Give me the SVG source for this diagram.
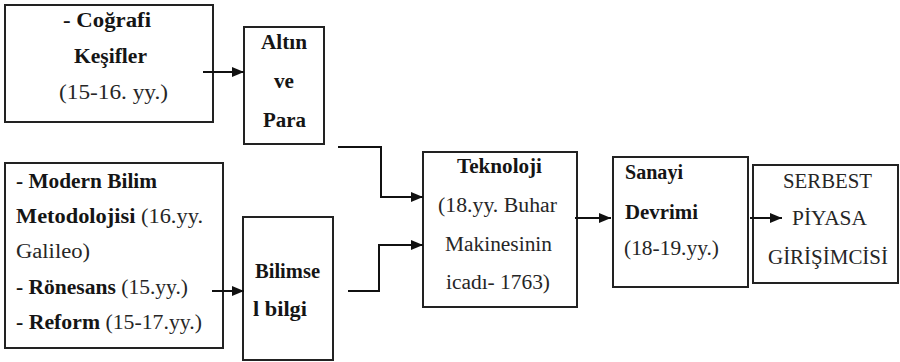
<svg xmlns="http://www.w3.org/2000/svg" width="900" height="362" viewBox="0 0 900 362">
<defs>
<marker id="arr" markerUnits="userSpaceOnUse" markerWidth="12" markerHeight="10" refX="12" refY="5" orient="auto">
<path d="M0,0 L12,5 L0,10 z" fill="#111"/>
</marker>
<style>
.box{fill:#fff;stroke:#222;stroke-width:2}
.b{font-weight:bold;fill:#151515}
.con path{fill:none;stroke:#111;stroke-width:2;marker-end:url(#arr)}
</style>
</defs>
<rect width="900" height="362" fill="#fff"/>
<g font-family="'Liberation Serif', 'Times New Roman', serif" font-size="20.5" fill="#262626">
<g id="cografi">
<rect class="box" x="5" y="5" width="208" height="117"/>
<text class="b" x="63" y="27" textLength="88" lengthAdjust="spacingAndGlyphs">- Coğrafi</text>
<text class="b" x="74" y="63" textLength="73" lengthAdjust="spacingAndGlyphs">Keşifler</text>
<text x="59" y="99" textLength="109" lengthAdjust="spacingAndGlyphs">(15-16. yy.)</text>
</g>
<g id="altin">
<rect class="box" x="244" y="27" width="80" height="117"/>
<text class="b" x="261" y="49" textLength="46" lengthAdjust="spacingAndGlyphs">Altın</text>
<text class="b" x="274" y="88" textLength="20" lengthAdjust="spacingAndGlyphs">ve</text>
<text class="b" x="263" y="127" textLength="43" lengthAdjust="spacingAndGlyphs">Para</text>
</g>
<g id="modern">
<rect class="box" x="5" y="163" width="218" height="185"/>
<text class="b" x="16" y="188" textLength="141" lengthAdjust="spacingAndGlyphs">- Modern Bilim</text>
<text x="16" y="223" textLength="187" lengthAdjust="spacingAndGlyphs"><tspan class="b">Metodolojisi</tspan> (16.yy.</text>
<text x="16" y="258" textLength="74" lengthAdjust="spacingAndGlyphs">Galileo)</text>
<text x="16" y="294" textLength="172" lengthAdjust="spacingAndGlyphs"><tspan class="b">- Rönesans</tspan> (15.yy.)</text>
<text x="16" y="329" textLength="186" lengthAdjust="spacingAndGlyphs"><tspan class="b">- Reform</tspan> (15-17.yy.)</text>
</g>
<g id="bilimsel">
<rect class="box" x="243" y="217" width="90" height="143"/>
<text class="b" x="255" y="278" textLength="65" lengthAdjust="spacingAndGlyphs">Bilimse</text>
<text class="b" x="253" y="316" textLength="54" lengthAdjust="spacingAndGlyphs">l bilgi</text>
</g>
<g id="teknoloji">
<rect class="box" x="423" y="152" width="154" height="155"/>
<text class="b" x="457" y="173" textLength="85" lengthAdjust="spacingAndGlyphs">Teknoloji</text>
<text x="438" y="212" textLength="119" lengthAdjust="spacingAndGlyphs">(18.yy. Buhar</text>
<text x="445" y="251" textLength="107" lengthAdjust="spacingAndGlyphs">Makinesinin</text>
<text x="446" y="289" textLength="104" lengthAdjust="spacingAndGlyphs">icadı- 1763)</text>
</g>
<g id="sanayi">
<rect class="box" x="613" y="157" width="135" height="130"/>
<text class="b" x="625" y="179" textLength="58" lengthAdjust="spacingAndGlyphs">Sanayi</text>
<text class="b" x="625" y="219" textLength="73" lengthAdjust="spacingAndGlyphs">Devrimi</text>
<text x="624" y="255" textLength="95" lengthAdjust="spacingAndGlyphs">(18-19.yy.)</text>
</g>
<g id="serbest">
<rect class="box" x="753" y="165" width="145" height="118"/>
<text x="783" y="188" textLength="89" lengthAdjust="spacingAndGlyphs">SERBEST</text>
<text x="792" y="225" textLength="75" lengthAdjust="spacingAndGlyphs">PİYASA</text>
<text x="768" y="264" textLength="120" lengthAdjust="spacingAndGlyphs">GİRİŞİMCİSİ</text>
</g>
</g>
<g id="connectors" class="con">
<path d="M203,72 H244"/>
<path d="M338,147 H381 V197 H423"/>
<path d="M348,291 H379 V245 H423"/>
<path d="M212,291 H244"/>
<path d="M575,218 H611"/>
<path d="M750,218 H782"/>
</g>
</svg>
